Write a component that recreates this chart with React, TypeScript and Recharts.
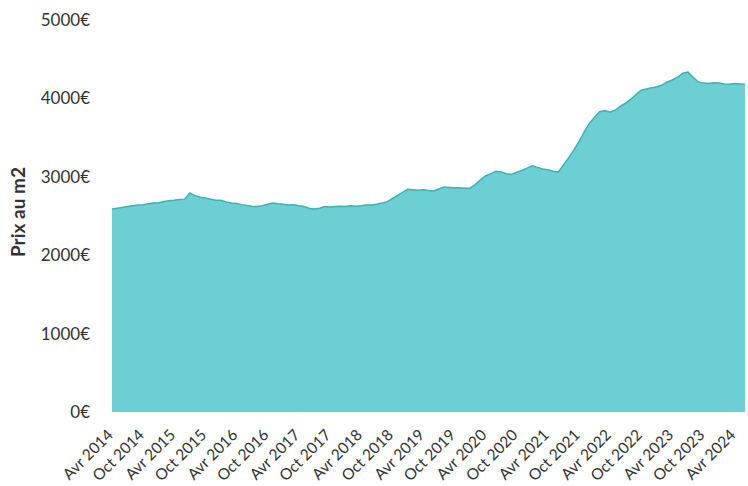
import { AreaChart, Area, XAxis, YAxis } from 'recharts'

// prix moyen au m2, un point par mois depuis avril 2014
const prix = [
  2590, 2600, 2610, 2620, 2630, 2640, 2645, 2655, 2665, 2670,
  2685, 2695, 2700, 2710, 2715, 2795, 2760, 2740, 2730, 2715,
  2700, 2700, 2680, 2665, 2660, 2645, 2635, 2625, 2620, 2630,
  2650, 2665, 2655, 2650, 2640, 2645, 2630, 2620, 2600, 2590,
  2600, 2620, 2615, 2620, 2625, 2620, 2630, 2625, 2630, 2640,
  2640, 2650, 2665, 2680, 2720, 2760, 2800, 2840, 2835, 2830,
  2835, 2825, 2820, 2845, 2870, 2865, 2860, 2860, 2855, 2855,
  2900, 2960, 3010, 3040, 3070, 3060, 3040, 3030, 3060, 3080,
  3110, 3140, 3120, 3100, 3090, 3070, 3060, 3150, 3240, 3340,
  3450, 3570, 3680, 3760, 3830, 3845, 3825, 3850, 3900, 3940,
  3990, 4050, 4105, 4120, 4135, 4145, 4170, 4210, 4235, 4270,
  4320, 4335, 4270, 4210, 4195, 4190, 4200, 4195, 4185, 4180,
  4190, 4185, 4180,
]

// un libellé tous les 6 mois
const tickLabels = [
  'Avr 2014', 'Oct 2014', 'Avr 2015', 'Oct 2015', 'Avr 2016', 'Oct 2016',
  'Avr 2017', 'Oct 2017', 'Avr 2018', 'Oct 2018', 'Avr 2019', 'Oct 2019',
  'Avr 2020', 'Oct 2020', 'Avr 2021', 'Oct 2021', 'Avr 2022', 'Oct 2022',
  'Avr 2023', 'Oct 2023', 'Avr 2024',
]

const yTicks = [0, 1000, 2000, 3000, 4000, 5000]

const data = prix.map((v, i) => ({ t: i, prix: v }))

const FONT = 'Lato, "Open Sans", sans-serif'

function MonthTick({ x, y, payload }: any) {
  const label = tickLabels[Math.round(payload.value / 6)]
  return (
    <g transform={`translate(${x + 2},${y + 16})`}>
      <text
        x={0}
        y={0}
        textAnchor="end"
        transform="rotate(-45)"
        fontSize={15.5}
        fontFamily={FONT}
        fill="#333"
      >
        {label}
      </text>
    </g>
  )
}

export default function App() {
  return (
    <div style={{ position: 'absolute', left: 0, top: 0, width: 748, height: 486, overflow: 'hidden', background: '#fff' }}>
      <AreaChart
        width={748}
        height={486}
        data={data}
        margin={{ top: 20, right: 3, bottom: 0, left: 0 }}
      >
        <XAxis
          dataKey="t"
          type="number"
          domain={[0, prix.length - 1]}
          ticks={tickLabels.map((_, i) => i * 6)}
          interval={0}
          tick={<MonthTick />}
          tickLine={false}
          axisLine={false}
          height={74}
        />
        <YAxis
          domain={[0, 5000]}
          ticks={yTicks}
          tickFormatter={(v: number) => `${v}€`}
          tickLine={false}
          axisLine={false}
          tickMargin={16}
          width={112}
          tick={{ fontSize: 17, fontFamily: FONT, fill: '#333' }}
          label={{
            value: 'Prix au m2',
            angle: -90,
            position: 'insideLeft',
            offset: 18,
            dy: -4,
            style: { fontSize: 19, fontWeight: 700, fontFamily: FONT, fill: '#333', textAnchor: 'middle' },
          }}
        />
        <Area
          type="linear"
          dataKey="prix"
          stroke="#3fb0b3"
          strokeWidth={1.5}
          fill="#6ccfd3"
          fillOpacity={1}
          isAnimationActive={false}
        />
      </AreaChart>
    </div>
  )
}
